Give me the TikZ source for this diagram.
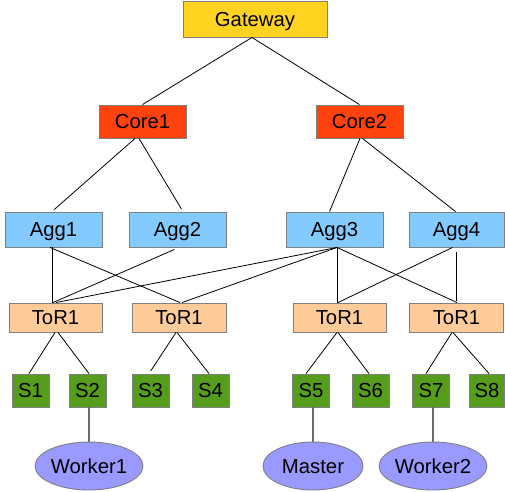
\documentclass[tikz,border=0pt]{standalone}
\usepackage{fontspec}
\setmainfont{Liberation Sans}
\usetikzlibrary{shapes.geometric}
\definecolor{gwc}{HTML}{FFD320}
\definecolor{corec}{HTML}{FF420E}
\definecolor{aggc}{HTML}{83CAFF}
\definecolor{torc}{HTML}{FFCC99}
\definecolor{srvc}{HTML}{579D1C}
\definecolor{elc}{HTML}{9999FF}
\definecolor{bordc}{HTML}{808080}
\definecolor{linkc}{HTML}{6B6B6B}
\begin{document}
\begin{tikzpicture}[x=1pt,y=-1pt,
  box/.style={draw=bordc,line width=0.9pt,inner sep=0pt,text height=14.3pt,text depth=0pt,font=\fontsize{20.3}{24}\selectfont},
  gwbox/.style={box,fill=gwc,minimum width=144pt,minimum height=36pt},
  corebox/.style={box,fill=corec,minimum width=87pt,minimum height=33pt},
  aggbox/.style={box,fill=aggc,minimum width=97pt,minimum height=35pt},
  torbox/.style={box,fill=torc,minimum width=94pt,minimum height=29pt},
  srvbox/.style={box,fill=srvc,minimum width=37pt,minimum height=33pt},
  procnode/.style={box,ellipse,fill=elc,minimum width=100pt,minimum height=48pt},
  link/.style={draw=black,line width=0.8pt},
  plink/.style={draw=linkc,line width=1.4pt}]
\useasboundingbox (0,0) rectangle (505,491);
\node[gwbox] (gw) at (255,19) {Gateway};
\node[corebox] (c1) at (142.5,121.5) {Core1};
\node[corebox] (c2) at (359.5,121.5) {Core2};
\node[aggbox] (a1) at (53.5,229.5) {Agg1};
\node[aggbox] (a2) at (177.5,229.5) {Agg2};
\node[aggbox] (a3) at (334.5,229.5) {Agg3};
\node[aggbox,minimum width=95pt] (a4) at (456.5,229.5) {Agg4};
\node[torbox,minimum width=93pt] (t1) at (55.5,317.5) {ToR1};
\node[torbox] (t2) at (179,317.5) {ToR1};
\node[torbox,minimum width=93pt] (t3) at (339.5,317.5) {ToR1};
\node[torbox] (t4) at (456.5,317.5) {ToR1};
\node[srvbox] (s1) at (30.5,390.5) {S1};
\node[srvbox] (s2) at (87.5,390.5) {S2};
\node[srvbox] (s3) at (150.5,390.5) {S3};
\node[srvbox] (s4) at (210.5,390.5) {S4};
\node[srvbox] (s5) at (311,390.5) {S5};
\node[srvbox] (s6) at (370.5,390.5) {S6};
\node[srvbox] (s7) at (431,390.5) {S7};
\node[srvbox,minimum width=35pt] (s8) at (487,390.5) {S8};
\node[procnode] (w1) at (89,466) {Worker1};
\node[procnode] (m) at (313,466) {Master};
\node[procnode] (w2) at (433,466) {Worker2};
% gateway to core
\draw[link] ([xshift=-3pt]gw.south) -- (c1.north);
\draw[link] ([xshift=-3pt]gw.south) -- (c2.north);
% core to agg
\draw[link,shorten >=3pt] ([xshift=-7.5pt]c1.south) -- ([xshift=-1.5pt]a1.north);
\draw[link,shorten >=3pt] ([xshift=-3.5pt]c1.south) -- ([xshift=5.5pt]a2.north);
\draw[link] ([xshift=0.5pt]c2.south) -- ([xshift=-5pt]a3.north);
\draw[link] ([xshift=3pt]c2.south) -- ([xshift=-1pt]a4.north);
% agg to tor
\draw[link] ([xshift=-1.5pt]a1.south) -- ([xshift=-3.5pt]t1.north);
\draw[link] ([xshift=-3.5pt]a1.south) -- ([xshift=1pt]t2.north);
\draw[link,shorten <=5pt] ([xshift=1.5pt]a2.south) -- ([xshift=-2.5pt]t1.north);
\draw[link] ([xshift=2.5pt]a3.south) -- ([xshift=0.5pt]t1.north);
\draw[link] ([xshift=2.5pt]a3.south) -- ([xshift=3pt]t2.north);
\draw[link] ([xshift=2.5pt]a3.south) -- ([xshift=-2.5pt]t3.north);
\draw[link] ([xshift=2.5pt]a3.south) -- ([xshift=0.5pt]t4.north);
\draw[link] ([xshift=-4pt]a4.south) -- ([xshift=-1.5pt]t3.north);
\draw[link,shorten <=5pt,shorten >=2pt] (a4.south) -- (t4.north);
% tor to servers
\draw[link] ([xshift=-0.5pt]t1.south) -- ([xshift=-1.5pt]s1.north);
\draw[link] ([xshift=2.5pt]t1.south) -- ([xshift=1.5pt]s2.north);
\draw[link,shorten >=3pt] ([xshift=-3pt]t2.south) -- ([xshift=-1.5pt]s3.north);
\draw[link] ([xshift=-2pt]t2.south) -- ([xshift=-1.5pt]s4.north);
\draw[link] ([xshift=-2.5pt]t3.south) -- ([xshift=-5pt]s5.north);
\draw[link] ([xshift=-1.5pt]t3.south) -- ([xshift=-1.5pt]s6.north);
\draw[link] ([xshift=-4.5pt]t4.south) -- ([xshift=-5pt]s7.north);
\draw[link] ([xshift=-3.5pt]t4.south) -- ([xshift=2pt]s8.north);
% servers to processes
\draw[plink] ([xshift=1.5pt]s2.south) -- (w1.north);
\draw[plink] ([xshift=2pt]s5.south) -- (m.north);
\draw[plink] ([xshift=2pt]s7.south) -- (w2.north);
\end{tikzpicture}
\end{document}
